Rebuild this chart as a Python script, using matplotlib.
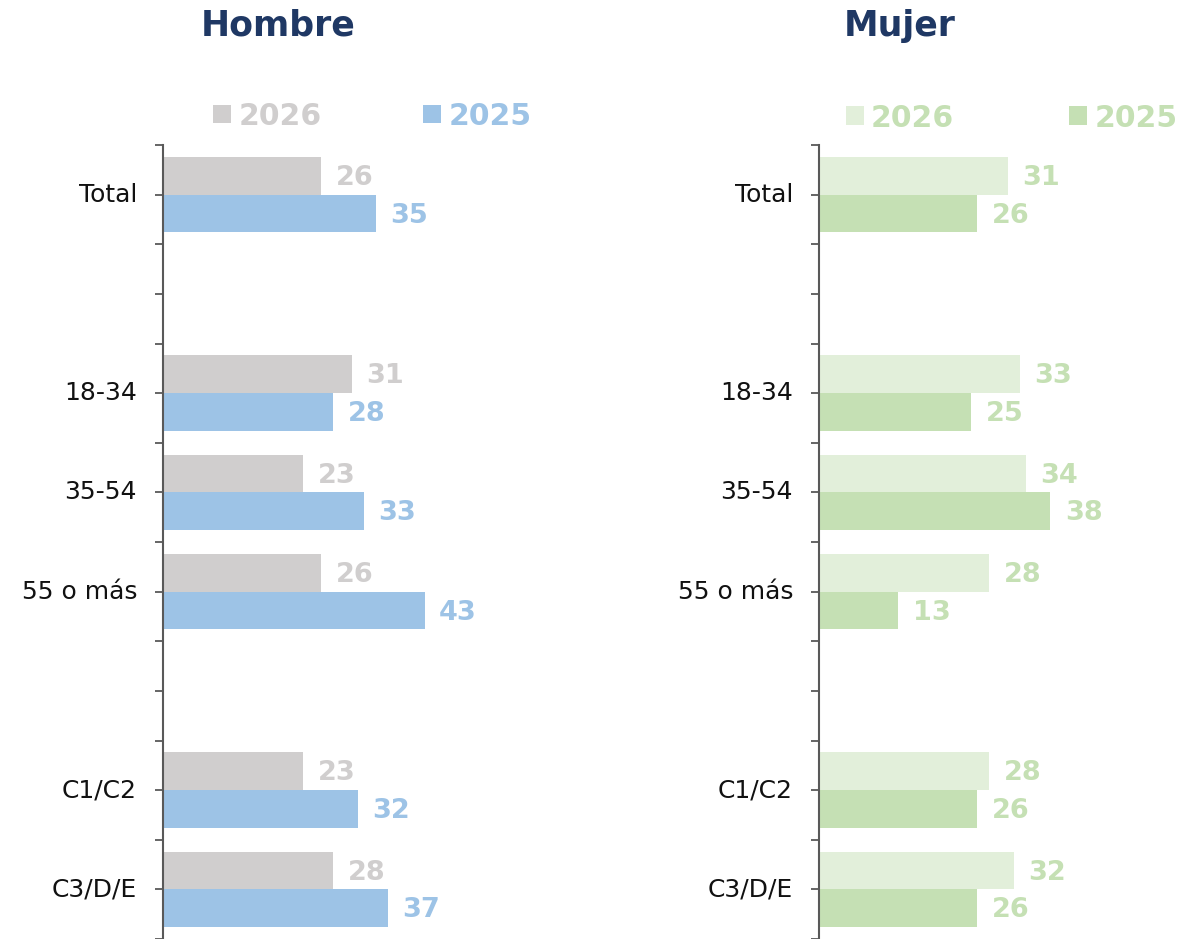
"""Hombre / Mujer horizontal grouped bars, 2026 vs 2025."""
import matplotlib; matplotlib.use('Agg')
import matplotlib.pyplot as plt
import numpy as np

# categories and their slot on the y axis (gaps left empty on purpose)
categories = ["Total", "18-34", "35-54", "55 o más", "C1/C2", "C3/D/E"]
positions = [0, 2, 3, 4, 6, 7]

hombre_2026 = [26, 31, 23, 26, 23, 28]
hombre_2025 = [35, 28, 33, 43, 32, 37]
mujer_2026 = [31, 33, 34, 28, 28, 32]
mujer_2025 = [26, 25, 38, 13, 26, 26]

series_labels = ["2026", "2025"]

W, H = 1199, 939
fig = plt.figure(figsize=(W / 100, H / 100), dpi=100)

BOLD_FONT = ["DejaVu Sans"]
CAT_FONT = ["DejaVu Sans"]
SPINE = '#595959'
NAVY = '#1F3864'


def panel(left_px, v26, v25, c26, c25, lab26, lab25, leg_x, leg_y, colsp):
    ax = fig.add_axes([left_px / W, 0, 365 / W, 794 / H])
    y = np.array(positions, dtype=float)
    h = 0.38
    b26 = ax.barh(y - h / 2, v26, height=h, color=c26, label=series_labels[0])
    b25 = ax.barh(y + h / 2, v25, height=h, color=c25, label=series_labels[1])

    for bars, col in ((b26, lab26), (b25, lab25)):
        for bar in bars:
            w = bar.get_width()
            ax.annotate(f'{w:.0f}', (w, bar.get_y() + bar.get_height() / 2),
                        xytext=(10.5, -1.5), textcoords='offset points',
                        ha='left', va='center', fontsize=19.5, fontweight='bold',
                        color=col, family=BOLD_FONT)

    ax.set_xlim(0, 60)
    ax.set_ylim(7.5, -0.5)
    ax.set_yticks(np.arange(-0.5, 7.51, 0.5))
    ax.set_yticklabels([])
    ax.tick_params(axis='y', length=6, width=1.3, color=SPINE, direction='out')
    for p, c in zip(positions, categories):
        ax.text(-26 / 6.09, p, c, ha='right', va='center', fontsize=18,
                family=CAT_FONT, color='#111111')
    ax.set_xticks([])
    for s in ('top', 'right', 'bottom'):
        ax.spines[s].set_visible(False)
    ax.spines['left'].set_color(SPINE)
    ax.spines['left'].set_linewidth(1.5)

    leg = ax.legend(loc='center', bbox_to_anchor=(leg_x, leg_y), ncol=2,
                    frameon=False, handlelength=0.6, handleheight=0.6,
                    handletextpad=0.25, columnspacing=colsp,
                    prop={'family': BOLD_FONT, 'weight': 'bold', 'size': 21.5})
    for t, col in zip(leg.get_texts(), (lab26, lab25)):
        t.set_color(col)
    return ax


panel(163, hombre_2026, hombre_2025, '#D0CECE', '#9DC3E6', '#D0CECE', '#9DC3E6',
      0.573, 1.0365, 3.4)
panel(819, mujer_2026, mujer_2025, '#E2EFDA', '#C5E0B4', '#C5E0B4', '#C5E0B4',
      0.528, 1.034, 3.85)

fig.text(278 / W, 1 - 26 / H, "Hombre", ha='center', va='center', fontsize=25,
         fontweight='bold', color=NAVY, family=BOLD_FONT)
fig.text(900 / W, 1 - 26 / H, "Mujer", ha='center', va='center', fontsize=25,
         fontweight='bold', color=NAVY, family=BOLD_FONT)

plt.savefig("out.png", dpi=100)
plt.close()
